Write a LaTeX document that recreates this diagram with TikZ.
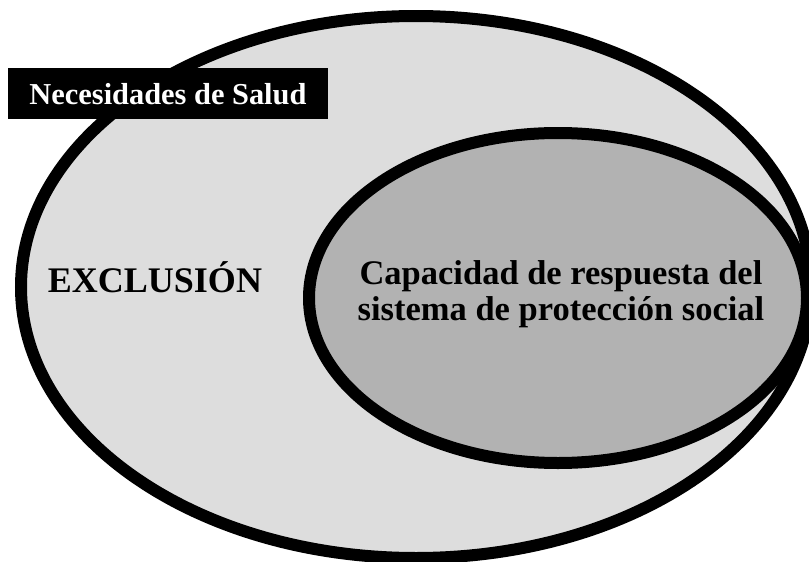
\documentclass[tikz,border=0pt]{standalone}
\usepackage{fontspec}
\setmainfont{Liberation Serif}
\definecolor{outergray}{HTML}{DDDDDD}
\definecolor{innergray}{HTML}{B2B2B2}
\tikzset{
  ring/.style={draw=black, line width=12pt},
  labeltext/.style={font=\bfseries, inner sep=0pt, text=black},
}
\begin{document}
\begin{tikzpicture}[x=1pt,y=-1pt]
\useasboundingbox (0,0) rectangle (809,562);
\clip (0,0) rectangle (809,562);
% outer ellipse: needs
\draw[ring, fill=outergray] (416,287) ellipse [x radius=395, y radius=271];
% inner ellipse: capacity
\draw[ring, fill=innergray] (558,298) ellipse [x radius=249, y radius=165];
% title box
\fill[black] (8,68) rectangle (328,119);
\node[labeltext, text=white, font=\bfseries\fontsize{30.4}{32}\selectfont, anchor=base] (necesidades) at (168,104) {Necesidades de Salud};
\node[labeltext, font=\bfseries\fontsize{36}{38}\selectfont, anchor=base] (exclusion) at (155,292) {EXCLUSIÓN};
\node[labeltext, font=\bfseries\fontsize{34.5}{36}\selectfont, align=center] (capacidad) at (561,294.5) {Capacidad de respuesta del\\sistema de protección social};
\end{tikzpicture}
\end{document}
